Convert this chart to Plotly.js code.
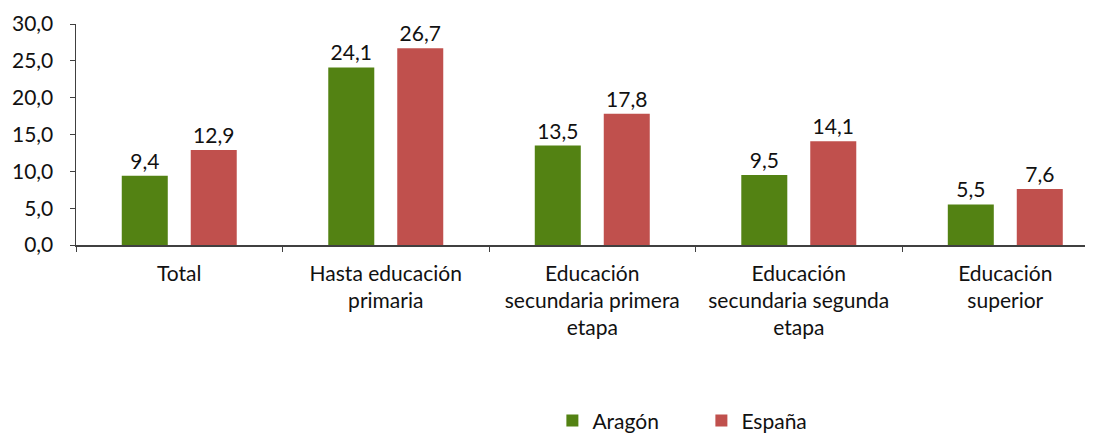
<!DOCTYPE html>
<html>
<head>
<meta charset="utf-8">
<script src="https://cdn.plot.ly/plotly-3.0.1.min.js"></script>
<style>
  html, body { margin: 0; padding: 0; background: #fff; }
  #grafico { width: 1096px; height: 433px; }
</style>
</head>
<body>
<div id="grafico"></div>
<script>
const categorias = ["Total", "Hasta educación<br>primaria", "Educación<br>secundaria primera<br>etapa", "Educación<br>secundaria segunda<br>etapa", "Educación<br>superior"];
const aragon = [9.4, 24.1, 13.5, 9.5, 5.5];
const espana = [12.9, 26.7, 17.8, 14.1, 7.6];

const fuente = { family: "Lato, 'Open Sans', sans-serif", size: 21, color: "#111111" };

const comun = {
  type: "bar",
  x: categorias,
  texttemplate: "%{y:.1f}",
  textposition: "outside",
  textfont: fuente,
  cliponaxis: false,
  hoverinfo: "skip"
};

Plotly.newPlot("grafico", [
  Object.assign({}, comun, { name: "Aragón", y: aragon, marker: { color: "#538213" } }),
  Object.assign({}, comun, { name: "España", y: espana, marker: { color: "#C0504D" } })
], {
  width: 1096,
  height: 433,
  margin: { l: 76, r: 11, t: 24, b: 188 },
  separators: ",.",
  font: fuente,
  barmode: "group",
  bargap: 0.332,
  bargroupgap: 0.333,
  showlegend: true,
  legend: {
    orientation: "h",
    xref: "container", yref: "container",
    x: 0.504, xanchor: "left",
    y: 0.028, yanchor: "middle",
    entrywidth: 104,
    font: fuente
  },
  xaxis: {
    type: "category",
    range: [-0.5, 4.386],
    automargin: false,
    showline: true,
    linecolor: "#404040",
    linewidth: 1.5,
    ticks: "outside",
    tickson: "boundaries",
    ticklen: 5,
    tickcolor: "#404040",
    tickangle: 0,
    ticklabelstandoff: 9,
    tickfont: fuente,
    showgrid: false,
    zeroline: false
  },
  yaxis: {
    range: [0, 30],
    dtick: 5,
    tickformat: ".1f",
    automargin: false,
    showline: true,
    linecolor: "#404040",
    linewidth: 1.5,
    ticks: "outside",
    ticklen: 5,
    tickcolor: "#404040",
    tickfont: fuente,
    ticklabelstandoff: 12,
    showgrid: false,
    zeroline: false
  }
}, { displayModeBar: false, staticPlot: true });
</script>
</body>
</html>
